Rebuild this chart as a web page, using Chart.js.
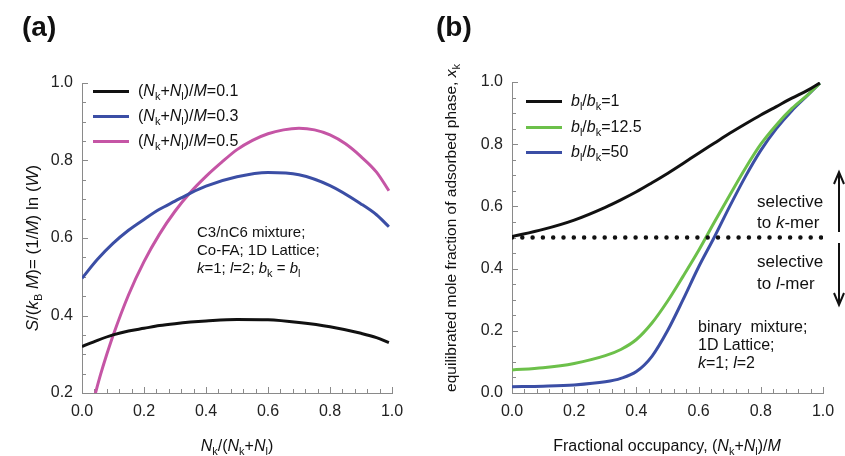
<!DOCTYPE html>
<html>
<head>
<meta charset="utf-8">
<script src="https://cdn.jsdelivr.net/npm/chart.js@4"></script>
<style>
  body { margin: 0; background: #fff; font-family: "Liberation Sans", Arial, sans-serif; color: #111; }
  #wrap { position: relative; width: 845px; height: 456px; overflow: hidden; }
  canvas { position: absolute; top: 0; }
  .t { position: absolute; white-space: nowrap; font-size: 16px; line-height: 18px; }
  .t sub { font-size: 11px; vertical-align: -4px; line-height: 0; font-style: normal; }
  .c { transform: translate(-50%, -50%); }
  .rot { transform: translate(-50%, -50%) rotate(-90deg); }
  .panel { position: absolute; font-weight: bold; font-size: 28px; line-height: 30px; }
  .key { position: absolute; height: 3px; }
  svg { position: absolute; left: 0; top: 0; }
</style>
</head>
<body>
<div id="wrap">
  <canvas id="chartA" width="422" height="456" style="left:0"></canvas>
  <canvas id="chartB" width="423" height="456" style="left:422px"></canvas>

  <div class="panel" style="left:22px;top:12px">(a)</div>
  <div class="panel" style="left:436px;top:12px">(b)</div>

  <div class="t rot" style="left:33px;top:248px;font-size:17px"><i>S</i>/(<i>k</i><sub>B</sub> <i>M</i>)= (1/<i>M</i>) ln (<i>W</i>)</div>
  <div class="t c" style="left:237px;top:446px"><i>N</i><sub>k</sub>/(<i>N</i><sub>k</sub>+<i>N</i><sub>l</sub>)</div>
  <div class="t rot" style="left:451px;top:228px;font-size:15.5px">equilibrated mole fraction of adsorbed phase, <i>x</i><sub>k</sub></div>
  <div class="t c" style="left:667px;top:446px">Fractional occupancy, (<i>N</i><sub>k</sub>+<i>N</i><sub>l</sub>)/<i>M</i></div>

  <div class="t" style="left:197px;top:223px;font-size:15px">C3/nC6 mixture;<br>Co-FA; 1D Lattice;<br><i>k</i>=1; <i>l</i>=2; <i>b</i><sub>k</sub> = <i>b</i><sub>l</sub></div>
  <div class="t" style="left:698px;top:318px">binary&nbsp; mixture;<br>1D Lattice;<br><i>k</i>=1; <i>l</i>=2</div>
  <div class="t" style="left:757px;top:191px;font-size:17px;line-height:21px">selective<br>to <i>k</i>-mer</div>
  <div class="t" style="left:757px;top:251px;font-size:17px;line-height:22px">selective<br>to <i>l</i>-mer</div>

  <svg width="845" height="456">
    <g stroke="#111" stroke-width="2" fill="none">
      <line x1="839" y1="232" x2="839" y2="174"/>
      <polyline points="834,184 839,172 844,184"/>
      <line x1="839" y1="243" x2="839" y2="303"/>
      <polyline points="834,293 839,305 844,293"/>
    </g>
  </svg>
</div>

<script>
// panel (a): entropy vs composition
const xA = [0.0, 0.05, 0.1, 0.15, 0.2, 0.25, 0.3, 0.35, 0.4, 0.5, 0.6, 0.7, 0.8, 0.9, 0.95, 0.99];
const entropy01 = [0.320, 0.336, 0.350, 0.360, 0.367, 0.374, 0.379, 0.383, 0.386, 0.390, 0.389, 0.382, 0.371, 0.354, 0.343, 0.330];
const entropy03 = [0.496, 0.545, 0.586, 0.620, 0.648, 0.674, 0.695, 0.716, 0.734, 0.758, 0.769, 0.763, 0.735, 0.688, 0.660, 0.629];
const xA5 = [0.04, 0.06, 0.08, 0.1, 0.15, 0.2, 0.25, 0.3, 0.35, 0.4, 0.45, 0.5, 0.55, 0.6, 0.65, 0.7, 0.75, 0.8, 0.85, 0.9, 0.95, 0.99];
const entropy05 = [0.19, 0.248, 0.300, 0.348, 0.453, 0.539, 0.610, 0.669, 0.718, 0.759, 0.795, 0.828, 0.852, 0.869, 0.879, 0.883, 0.879, 0.866, 0.843, 0.810, 0.770, 0.722];
const labelsA = ["0.1", "0.3", "0.5"];
const colorsA = ["#111111", "#3b4ea5", "#c555a5"];

// panel (b): mole fraction of k-mer vs occupancy
const xB = [0, 0.1, 0.2, 0.3, 0.35, 0.4, 0.45, 0.5, 0.55, 0.6, 0.65, 0.7, 0.75, 0.8, 0.85, 0.9, 0.95, 0.99];
const ratio1 = [0.503, 0.526, 0.556, 0.597, 0.621, 0.647, 0.676, 0.706, 0.738, 0.771, 0.803, 0.835, 0.865, 0.894, 0.921, 0.948, 0.973, 0.997];
const ratio125 = [0.074, 0.081, 0.095, 0.120, 0.140, 0.172, 0.225, 0.295, 0.375, 0.458, 0.548, 0.636, 0.722, 0.800, 0.862, 0.915, 0.958, 0.996];
const ratio50 = [0.020, 0.022, 0.026, 0.036, 0.047, 0.069, 0.118, 0.200, 0.300, 0.405, 0.500, 0.600, 0.695, 0.780, 0.850, 0.908, 0.957, 0.996];
const labelsB = ["1", "12.5", "50"];
const colorsB = ["#111111", "#6cc04a", "#3b4ea5"];
const xHalf = [0, 1];
const yHalf = [0.5, 0.5];

const axisGray = "#8a8a8a";
Chart.defaults.font.family = "'Liberation Sans', Arial, sans-serif";
Chart.defaults.font.size = 16;
Chart.defaults.color = "#222";

const major = v => Math.abs(v * 5 - Math.round(v * 5)) < 1e-6;
const pts = (xs, ys) => xs.map((x, i) => ({ x, y: ys[i] }));

// ticks point into the plot, long ones at labelled values
const inTicks = {
  id: "inTicks",
  beforeDatasetsDraw(chart) {
    const { ctx, chartArea: a, scales } = chart;
    ctx.save();
    ctx.strokeStyle = axisGray;
    ctx.lineWidth = 1;
    ["x", "y"].forEach(k => {
      const s = scales[k];
      s.ticks.forEach(t => {
        const len = major(t.value) ? 6 : 4;
        const p = Math.round(s.getPixelForValue(t.value)) + 0.5;
        ctx.beginPath();
        if (k === "x") { ctx.moveTo(p, a.bottom); ctx.lineTo(p, a.bottom - len); }
        else { ctx.moveTo(a.left, p); ctx.lineTo(a.left + len, p); }
        ctx.stroke();
      });
    });
    ctx.restore();
  }
};

function line(data, color, extra) {
  return Object.assign({ data, borderColor: color, borderWidth: 3, pointRadius: 0,
    cubicInterpolationMode: "monotone", fill: false }, extra || {});
}

function axis(min, max, step, fix) {
  return {
    type: "linear", min, max,
    grid: { display: false, drawTicks: false },
    border: { display: true, color: axisGray, width: 1 },
    ticks: { stepSize: step, autoSkip: false, maxRotation: 0, padding: 9,
      callback: v => major(v) ? v.toFixed(1) : "" },
    afterFit: fix
  };
}

function makeChart(id, datasets, yMin, yMax, pad, yW) {
  return new Chart(document.getElementById(id), {
    type: "line",
    data: { datasets },
    options: {
      responsive: false, animation: false, devicePixelRatio: 1,
      layout: { padding: pad },
      plugins: { legend: { display: false }, tooltip: { enabled: false } },
      scales: {
        x: axis(0, 1, 0.04, s => { s.height = 63; }),
        y: axis(yMin, yMax, 0.05, s => { s.width = yW; })
      }
    },
    plugins: [inTicks]
  });
}

makeChart("chartA", [
  line(pts(xA, entropy01), colorsA[0]),
  line(pts(xA, entropy03), colorsA[1]),
  line(pts(xA5, entropy05), colorsA[2])
], 0.2, 1.0, { left: 0, top: 83, right: 30, bottom: 0 }, 82);

makeChart("chartB", [
  line(pts(xHalf, yHalf), "#111111", { borderWidth: 4.5, borderDash: [0, 10.3], borderCapStyle: "round", cubicInterpolationMode: "default", tension: 0 }),
  line(pts(xB, ratio1), colorsB[0]),
  line(pts(xB, ratio125), colorsB[1]),
  line(pts(xB, ratio50), colorsB[2])
], 0.0, 1.0, { left: 0, top: 82, right: 22, bottom: 0 }, 90);

// legends with italic / subscript labels
const wrap = document.getElementById("wrap");
function legend(x0, rows, colors, texts) {
  rows.forEach((y, i) => {
    const k = document.createElement("div");
    k.className = "key";
    k.style.cssText = `left:${x0}px;top:${y - 1.5}px;width:36px;background:${colors[i]}`;
    wrap.appendChild(k);
    const t = document.createElement("div");
    t.className = "t";
    t.style.cssText = `left:${x0 + 45}px;top:${y - 9}px`;
    t.innerHTML = texts[i];
    wrap.appendChild(t);
  });
}
legend(93, [91, 116, 141], colorsA,
  labelsA.map(v => `(<i>N</i><sub>k</sub>+<i>N</i><sub>l</sub>)/<i>M</i>=${v}`));
legend(526, [101, 127, 152], colorsB,
  labelsB.map(v => `<i>b</i><sub>l</sub>/<i>b</i><sub>k</sub>=${v}`));
</script>
</body>
</html>
